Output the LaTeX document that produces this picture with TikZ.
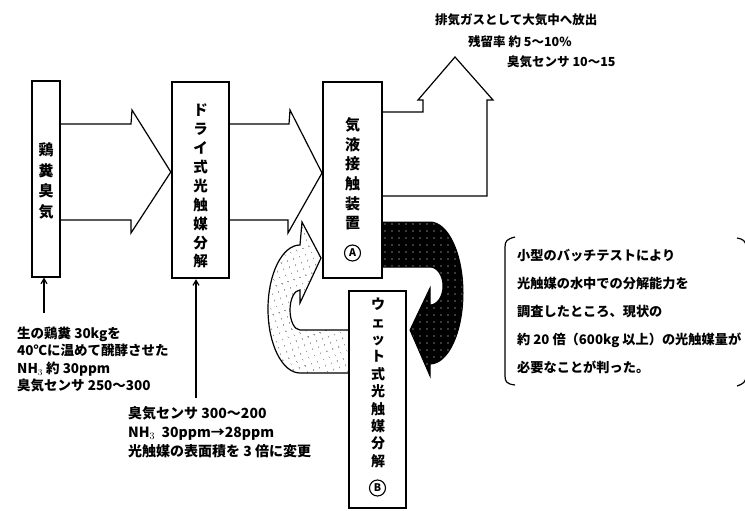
\documentclass[tikz,border=0pt]{standalone}
\usepackage{fontspec}
\newfontfamily\cjk{Noto Sans CJK JP}
\usetikzlibrary{arrows.meta,patterns.meta}
\begin{document}
\begin{tikzpicture}[x=1pt,y=-1pt,
  boxshape/.style={draw, fill=white, inner sep=0pt},
  vtext/.style={anchor=north, align=center, inner sep=0pt},
  circmark/.style={draw, circle, line width=1.1pt, minimum size=16pt, inner sep=0pt, font=\cjk\bfseries\fontsize{10.5}{10.5}\selectfont},
  note/.style={anchor=north west, align=left, inner sep=0pt, font=\cjk\bfseries\fontsize{13.5}{17.5}\selectfont},
  noteline/.style={anchor=west, inner sep=0pt, font=\cjk\bfseries\fontsize{12.5}{15}\selectfont},
  hollow/.style={draw, line width=1.2pt, line join=miter},
  upar/.style={line width=1.2pt, -{Straight Barb[length=5pt,width=6pt]}}
]
\useasboundingbox (0,0) rectangle (745,511);

% circulating arrows (drawn first, boxes cover their ends)
\path[draw, line width=1pt, preaction={fill=black},
      pattern={Dots[distance=7pt,radius=0.7pt]}, pattern color=white]
  (382,222) -- (430,222) .. controls (448.2,222) and (463,253.8) .. (463,293)
  .. controls (463,332.2) and (448.2,364) .. (430,364) -- (430,376) -- (410,330)
  -- (430,288) -- (430,305) .. controls (437.2,305) and (443,296.5) .. (443,286)
  .. controls (443,275.5) and (437.2,267) .. (430,267) -- (382,267) -- cycle;
\path[draw, line width=1.2pt, fill=white]
  (349,330) -- (300,330) .. controls (294.5,330) and (290,321) .. (290,310)
  .. controls (290,299) and (294.5,290) .. (300,290) -- (300,303) -- (321,258)
  -- (302,222) -- (300,245) .. controls (282.3,245) and (268,273.7) .. (268,309)
  .. controls (268,344.3) and (282.3,373) .. (300,373) -- (349,373) -- cycle;
\path[pattern={Dots[distance=6.5pt,radius=0.6pt,angle=20]}, pattern color=black]
  (349,330) -- (300,330) .. controls (294.5,330) and (290,321) .. (290,310)
  .. controls (290,299) and (294.5,290) .. (300,290) -- (300,303) -- (321,258)
  -- (302,222) -- (300,245) .. controls (282.3,245) and (268,273.7) .. (268,309)
  .. controls (268,344.3) and (282.3,373) .. (300,373) -- (349,373) -- cycle;

% boxes
\node[boxshape, line width=1.2pt, minimum width=28pt, minimum height=196pt] (b1) at (46,179) {};
\node[boxshape, line width=2.4pt, minimum width=57pt, minimum height=196pt] (b2) at (200.5,180) {};
\node[boxshape, line width=2pt, minimum width=59pt, minimum height=196pt] (b3) at (352.5,180) {};
\node[boxshape, line width=2pt, minimum width=57pt, minimum height=217pt] (b4) at (377.5,399.5) {};

% box texts
\node[vtext, font=\cjk\bfseries\fontsize{15}{20.5}\selectfont] (t1) at (46,142.5) {鶏\\糞\\臭\\気};
\node[vtext, font=\cjk\bfseries\fontsize{14.5}{18.9}\selectfont] (t2) at (200.5,103.75) {ド\\ラ\\イ\\式\\光\\触\\媒\\分\\解};
\node[vtext, font=\cjk\bfseries\fontsize{15}{19.6}\selectfont] (t3) at (352.5,117.5) {気\\液\\接\\触\\装\\置};
\node[circmark] (ca) at (352.5,253) {A};
\node[vtext, font=\cjk\bfseries\fontsize{14}{17.4}\selectfont] (t4) at (378,298) {ウ\\ェ\\ッ\\ト\\式\\光\\触\\媒\\分\\解};
\node[circmark] (cb) at (377.5,488) {B};

% hollow flow arrows
\draw[hollow] (b1.east |- 0,124) -- (131,124) -- (132,110) -- (b2.west |- 0,172)
  -- (131,233) -- (131,220) -- (b1.east |- 0,220);
\draw[hollow] (b2.east |- 0,124) -- (289,124) -- (290,110) -- (b3.west |- 0,173)
  -- (288,233) -- (288,220) -- (b2.east |- 0,220);
\draw[hollow] (b3.east |- 0,112) -- (423,112) -- (423,100) -- (418,100) -- (455,57)
  -- (493,100) -- (487,100) -- (487,196) -- (b3.east |- 0,196);

% annotation pointers
\coordinate (p1) at (44,313);
\draw[upar] (p1) -- (p1 |- b1.south);
\coordinate (p2) at (196,398);
\draw[upar] (p2) -- (p2 |- b2.south);

% annotation texts
\node[note] (n1) at (17,326.5) {生の鶏糞 30kgを\\40℃に温めて醗酵させた\\NH$_3$ 約 30ppm\\臭気センサ 250～300};
\node[note, font=\cjk\bfseries\fontsize{14}{19}\selectfont] (n2) at (128,406) {臭気センサ 300～200\\NH$_3$\ \ 30ppm→28ppm\\光触媒の表面積を 3 倍に変更};
\node[noteline] (n3) at (435,20) {排気ガスとして大気中へ放出};
\node[noteline] (n4) at (468,42) {残留率 約 5～10\%};
\node[noteline] (n5) at (507,62) {臭気センサ 10～15};
\node[note, font=\cjk\bfseries\fontsize{13.2}{28}\selectfont] (n6) at (517,248.5) {小型のバッチテストにより\\光触媒の水中での分解能力を\\調査したところ、現状の\\約 20 倍（600kg 以上）の光触媒量が\\必要なことが判った。};

% brackets
\draw[line width=1.2pt] (515,237) .. controls (507,239) and (505,241) .. (505,247) -- (505,376)
  .. controls (505,382) and (507,384) .. (515,385);
\draw[line width=1.2pt] (737,238) .. controls (743,239) and (746,241) .. (746,247) -- (746,376)
  .. controls (746,382) and (743,384) .. (737,386);
\end{tikzpicture}
\end{document}
